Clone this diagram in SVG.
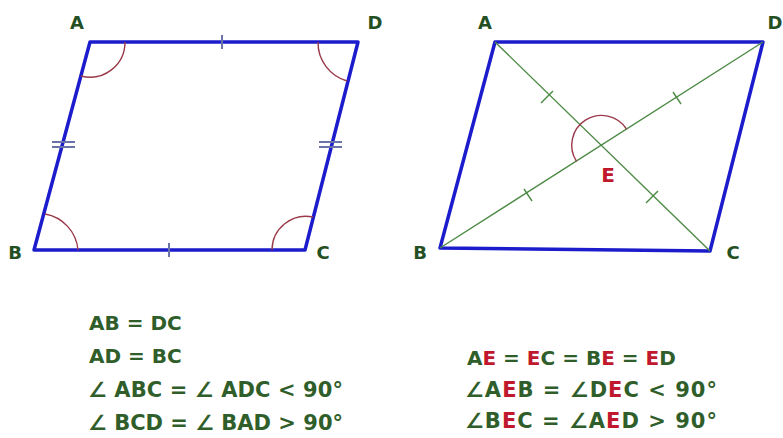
<svg xmlns="http://www.w3.org/2000/svg" width="783" height="438" viewBox="0 0 783 438">
<style>
.side{fill:none;stroke:#1c1ccc;stroke-width:3.5;stroke-linejoin:round}
.tick{stroke:#6b74a8;stroke-width:2;fill:none}
.diag{stroke:#4d8a45;stroke-width:1.4;fill:none}
.dtick{stroke:#4d8a45;stroke-width:1.4;fill:none}
.arc{fill:none;stroke:#9a3a4a;stroke-width:1.4}
.lbl{font-family:"DejaVu Sans",Verdana,sans-serif;font-weight:bold;font-size:18px;fill:#234f23}
.txt{font-family:"DejaVu Sans",Verdana,sans-serif;font-weight:bold;font-size:21px;fill:#2f5e2a}
.sm{font-size:20px}
.red{fill:#c0182c}
</style>
<rect width="783" height="438" fill="#ffffff"/>
<g id="left-parallelogram">
<polygon class="side" points="90,42 358,42 305,250 34,250"/>
<line class="tick" x1="222" y1="35" x2="222" y2="49"/>
<line class="tick" x1="169" y1="243" x2="169" y2="257"/>
<line class="tick" x1="52" y1="142" x2="75" y2="142"/>
<line class="tick" x1="52" y1="147" x2="75" y2="147"/>
<line class="tick" x1="319" y1="142" x2="342" y2="142"/>
<line class="tick" x1="319" y1="147" x2="342" y2="147"/>
<path class="arc" d="M 125 42 A 35 35 0 0 1 81 76"/>
<path class="arc" d="M 318 42 A 40 40 0 0 0 347 81"/>
<path class="arc" d="M 45 214 A 40 40 0 0 1 78 250"/>
<path class="arc" d="M 272 250 A 34 34 0 0 1 313 217"/>
</g>
<g id="left-labels">
<text class="lbl" x="77" y="29" text-anchor="middle">A</text>
<text class="lbl" x="375" y="29" text-anchor="middle">D</text>
<text class="lbl" x="15" y="259" text-anchor="middle">B</text>
<text class="lbl" x="323" y="259" text-anchor="middle">C</text>
</g>
<g id="right-parallelogram">
<polygon class="side" points="495,42 763,42 710,251 440,248"/>
</g>
<g id="connectors">
<line class="diag" x1="495" y1="42" x2="710" y2="251"/>
<line class="diag" x1="440" y1="248" x2="763" y2="42"/>
<line class="dtick" x1="541" y1="103" x2="553" y2="91"/>
<line class="dtick" x1="646" y1="203" x2="658" y2="191"/>
<line class="dtick" x1="524" y1="189" x2="532" y2="201"/>
<line class="dtick" x1="673" y1="92" x2="681" y2="104"/>
<path class="arc" d="M 576.5 161.3 A 29 29 0 0 1 626.5 129"/>
</g>
<g id="right-labels">
<text class="lbl" x="485" y="29" text-anchor="middle">A</text>
<text class="lbl" x="775" y="29" text-anchor="middle">D</text>
<text class="lbl" x="420" y="259" text-anchor="middle">B</text>
<text class="lbl" x="733" y="259" text-anchor="middle">C</text>
<text class="lbl red" x="608" y="182" text-anchor="middle" style="font-size:20px">E</text>
</g>
<g id="left-text">
<text class="txt sm" x="89" y="330">AB = DC</text>
<text class="txt sm" x="89" y="363">AD = BC</text>
<text class="txt" x="88" y="397" textLength="255" lengthAdjust="spacing">∠ ABC = ∠ ADC &lt; 90°</text>
<text class="txt" x="88" y="430" textLength="255" lengthAdjust="spacing">∠ BCD = ∠ BAD &gt; 90°</text>
</g>
<g id="right-text">
<text class="txt sm" x="467" y="365">A<tspan class="red">E</tspan> = <tspan class="red">E</tspan>C = B<tspan class="red">E</tspan> = <tspan class="red">E</tspan>D</text>
<text class="txt" x="465" y="397" textLength="252" lengthAdjust="spacing">∠A<tspan class="red">E</tspan>B = ∠D<tspan class="red">E</tspan>C &lt; 90°</text>
<text class="txt" x="465" y="428" textLength="252" lengthAdjust="spacing">∠B<tspan class="red">E</tspan>C = ∠A<tspan class="red">E</tspan>D &gt; 90°</text>
</g>
</svg>
